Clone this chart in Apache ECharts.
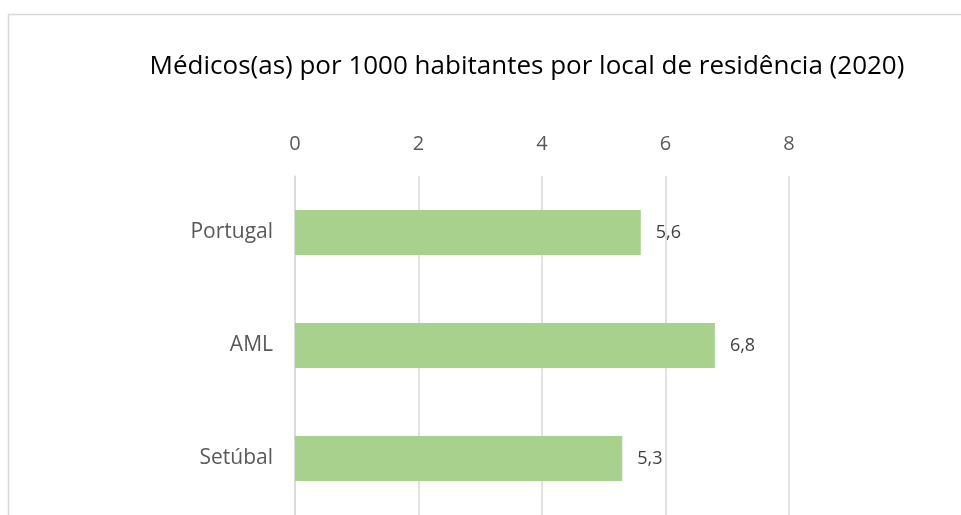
<!DOCTYPE html>
<html>
<head>
<meta charset="utf-8">
<script src="https://cdn.jsdelivr.net/npm/echarts@6/dist/echarts.min.js"></script>
<style>
  html, body { margin: 0; padding: 0; background: #fff; }
  #chart { width: 961px; height: 515px; }
</style>
</head>
<body>
<div id="chart"></div>
<script>
  // dados
  const categories = ['Portugal', 'AML', 'Setúbal']
  const values = [5.6, 6.8, 5.3]
  const titleText = 'Médicos(as) por 1000 habitantes por local de residência (2020)'

  const font = '"Open Sans", "Noto Sans", sans-serif'

  const chart = echarts.init(document.getElementById('chart'))
  chart.setOption({
    animation: false,
    title: {
      text: titleText,
      left: 522,
      textAlign: 'center',
      top: 49,
      textStyle: {
        fontFamily: font,
        fontWeight: 'normal',
        fontSize: 26,
        color: '#000'
      }
    },
    graphic: [{
      type: 'rect',
      shape: { x: 8.5, y: 14.5, width: 960, height: 600 },
      style: { fill: 'none', stroke: '#d9d9d9', lineWidth: 1.5 },
      silent: true
    }],
    grid: {
      left: 295,
      top: 176,
      width: 494,
      height: 342
    },
    xAxis: {
      type: 'value',
      position: 'top',
      min: 0,
      max: 8,
      interval: 2,
      axisLine: { show: false },
      axisTick: { show: false },
      axisLabel: {
        margin: 22,
        fontFamily: font,
        fontSize: 20,
        color: '#595959'
      },
      splitLine: { lineStyle: { color: '#d9d9d9', width: 1.5 } }
    },
    yAxis: {
      type: 'category',
      data: categories,
      inverse: true,
      axisLine: { show: true, lineStyle: { color: '#d9d9d9', width: 1.5 } },
      axisTick: { show: false },
      axisLabel: {
        margin: 22,
        fontFamily: font,
        fontSize: 21,
        color: '#595959'
      }
    },
    series: [{
      type: 'bar',
      data: values,
      barWidth: 45,
      itemStyle: { color: '#a9d18e' },
      label: {
        show: true,
        position: 'right',
        distance: 15,
        fontFamily: font,
        fontSize: 18,
        color: '#404040',
        formatter: p => String(p.value).replace('.', ',')
      }
    }]
  })
</script>
</body>
</html>
